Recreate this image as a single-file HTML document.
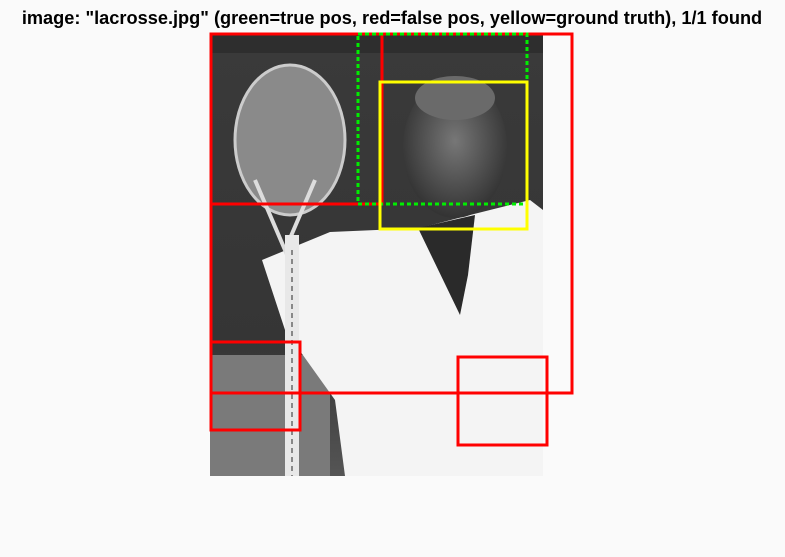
<!DOCTYPE html>
<html><head><meta charset="utf-8"><style>
body{margin:0;background:#fafafa;}
svg{display:block}
</style></head><body>
<svg width="785" height="557" viewBox="0 0 785 557">
<rect width="785" height="557" fill="#fafafa"/>
<text x="392" y="24" text-anchor="middle" font-family="Liberation Sans, sans-serif" font-weight="bold" font-size="18.2" fill="#000">image: "lacrosse.jpg" (green=true pos, red=false pos, yellow=ground truth), 1/1 found</text>
<g>
<defs>
<linearGradient id="bg" x1="0" y1="0" x2="0" y2="1"><stop offset="0" stop-color="#3a3a3a"/><stop offset="0.7" stop-color="#353535"/><stop offset="1" stop-color="#555"/></linearGradient>
<radialGradient id="face" cx="0.5" cy="0.45" r="0.55"><stop offset="0" stop-color="#777"/><stop offset="1" stop-color="#333"/></radialGradient>
</defs>
<rect x="210" y="33" width="333" height="443" fill="url(#bg)"/>
<rect x="210" y="355" width="120" height="121" fill="#7a7a7a"/>
<rect x="210" y="33" width="333" height="20" fill="#2e2e2e"/>
<polygon points="262,260 330,232 420,228 470,215 530,200 543,210 543,476 345,476 335,400 285,330" fill="#f4f4f4"/>
<polygon points="418,228 475,215 468,275 460,315" fill="#2a2a2a"/>
<ellipse cx="455" cy="148" rx="52" ry="70" fill="url(#face)"/>
<ellipse cx="455" cy="98" rx="40" ry="22" fill="#6a6a6a"/>
<ellipse cx="290" cy="140" rx="55" ry="75" fill="#8a8a8a"/>
<ellipse cx="290" cy="140" rx="55" ry="75" fill="none" stroke="#ccc" stroke-width="3"/>
<path d="M255,180 L285,250 L315,180" fill="none" stroke="#ddd" stroke-width="4"/>
<rect x="285" y="235" width="14" height="241" fill="#e8e8e8"/>
<line x1="292" y1="250" x2="292" y2="476" stroke="#888" stroke-width="2" stroke-dasharray="5,4"/>
</g>
<g fill="none" stroke-width="3">
<rect x="211" y="34" width="361" height="359" stroke="#ff0000"/>
<rect x="211" y="34" width="171" height="170" stroke="#ff0000"/>
<rect x="358" y="34" width="169" height="170" stroke="#00ee00" stroke-dasharray="4,3"/>
<rect x="380" y="82" width="147" height="147" stroke="#ffff00"/>
<rect x="211" y="342" width="89" height="88" stroke="#ff0000"/>
<rect x="458" y="357" width="89" height="88" stroke="#ff0000"/>
</g>
</svg>
</body></html>
